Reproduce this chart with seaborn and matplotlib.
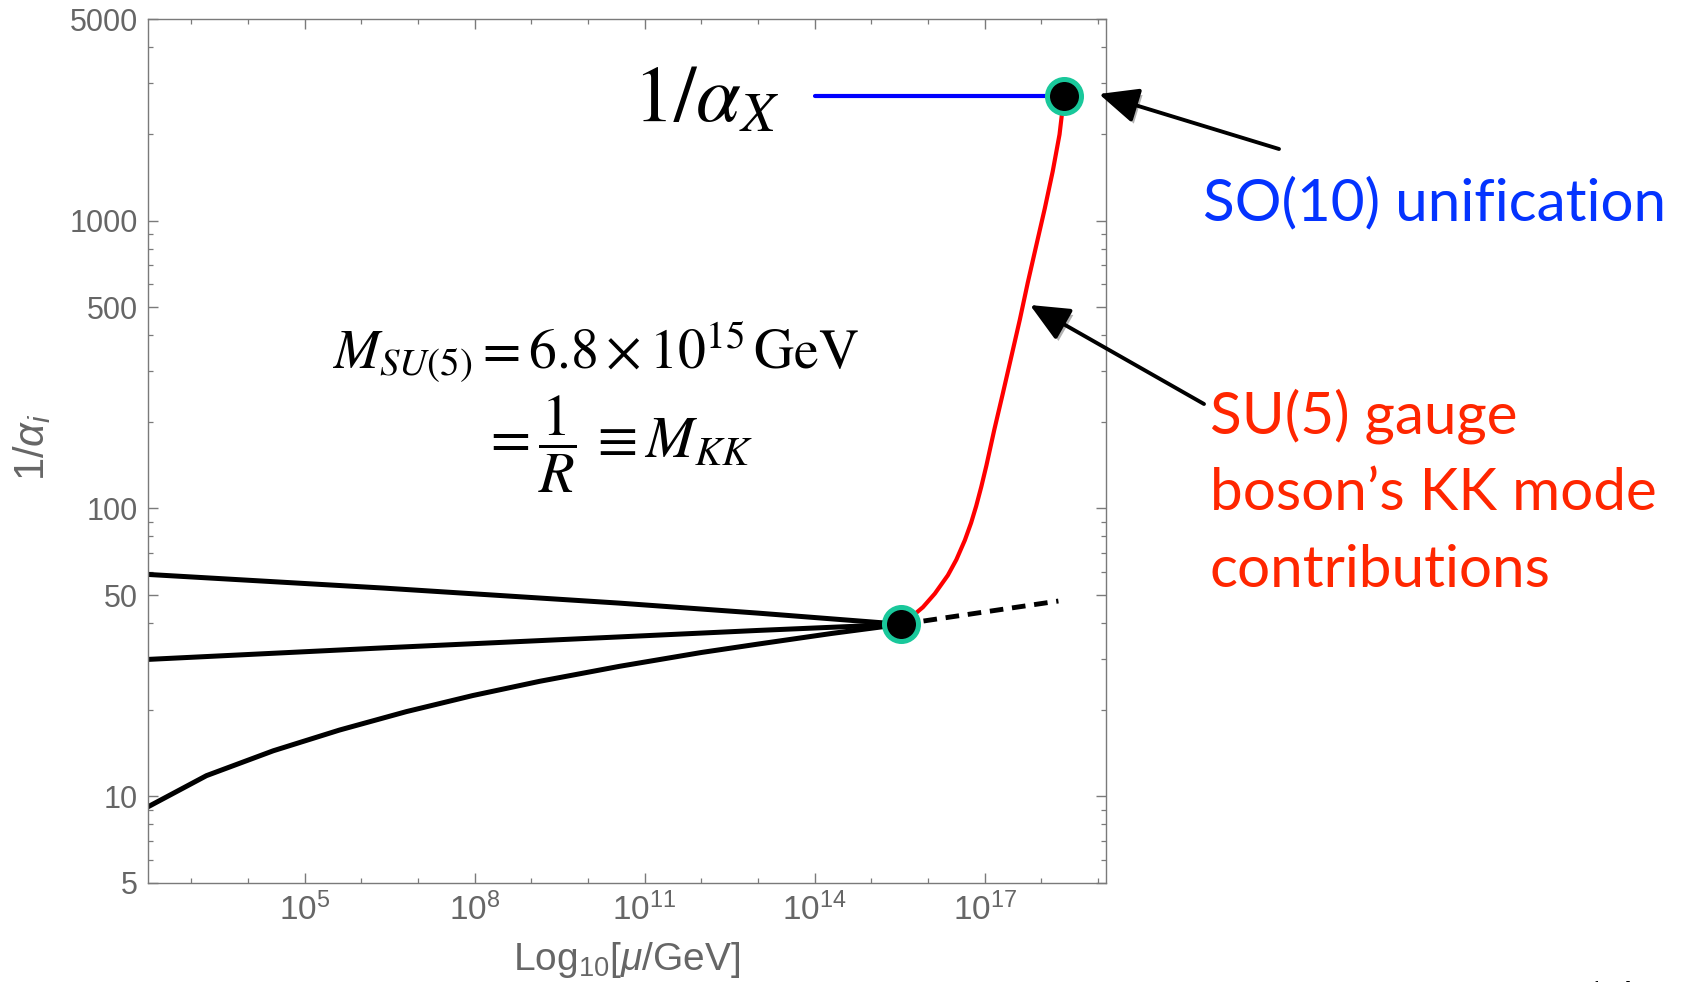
import matplotlib
matplotlib.use("Agg")
import matplotlib.pyplot as plt
import matplotlib.patheffects as pe
from matplotlib.ticker import FixedLocator, FuncFormatter, LogLocator, NullFormatter
import seaborn as sns

# values: x is log10(mu/GeV), y is 1/alpha_i
a1_x = [2.24, 6.40, 10.56, 13.00, 15.53]
a1_y = [59.0, 52.9, 46.9, 43.3, 39.6]
a2_x = [2.24, 6.40, 10.56, 13.00, 15.53]
a2_y = [29.9, 32.8, 35.8, 37.7, 39.6]
a3_x = [2.24, 3.27, 4.45, 5.62, 6.80, 7.97, 9.15, 10.56, 12.00, 13.00, 14.30, 15.53]
a3_y = [9.2, 11.8, 14.4, 17.0, 19.7, 22.4, 25.1, 28.3, 31.6, 33.8, 36.8, 39.6]

# SU(5) gauge boson KK tower running
kk_x = [15.53, 15.70, 15.91, 16.12, 16.35, 16.50, 16.65, 16.76, 16.85, 16.94,
        17.03, 17.17, 17.32, 17.47, 17.62, 17.76, 17.91, 18.06, 18.20, 18.32, 18.40]
kk_y = [39.6, 41.9, 45.4, 50.6, 58.6, 66.4, 77.6, 89.1, 102, 119,
        141, 188, 251, 337, 453, 609, 820, 1102, 1483, 1991, 2706]

# SM-like continuation above M_SU(5)
cont_x = [15.53, 18.30]
cont_y = [39.6, 47.7]

# 1/alpha_X level
ax_x = [14.0, 18.40]
ax_y = [2706, 2706]

dot_x = [15.53, 18.40]
dot_y = [39.6, 2706]

x_major = [5, 8, 11, 14, 17]
x_minor = list(range(3, 20))
y_major = [5, 10, 50, 100, 500, 1000, 5000]

gray = '#666666'
teal = '#19C89B'

sns.set_theme(style='ticks')
plt.rcParams['font.family'] = ['Liberation Sans', 'DejaVu Sans']
plt.rcParams['mathtext.fontset'] = 'custom'
plt.rcParams['mathtext.rm'] = 'Liberation Sans'
plt.rcParams['mathtext.it'] = 'Liberation Sans:italic'

W, H = 1688, 982
fig = plt.figure(figsize=(W / 100, H / 100), dpi=100)
ax = fig.add_axes([147.5 / W, (H - 883) / H, (1106 - 147.5) / W, (883 - 19.4) / H])


def px(x, y):
    return (x / W, 1 - y / H)


for xs, ys in [(a1_x, a1_y), (a2_x, a2_y), (a3_x, a3_y)]:
    sns.lineplot(x=xs, y=ys, ax=ax, color='black', linewidth=3.6, sort=False)

sns.lineplot(x=cont_x, y=cont_y, ax=ax, color='black', linewidth=3.5, sort=False)
ax.lines[-1].set_dashes((2.8, 1.8))
sns.lineplot(x=kk_x, y=kk_y, ax=ax, color='#FF0000', linewidth=3.0, sort=False)
sns.lineplot(x=ax_x, y=ax_y, ax=ax, color='#0000FF', linewidth=3.0, sort=False)
sns.scatterplot(x=dot_x, y=dot_y, ax=ax, s=600, color='black', edgecolor=teal,
                linewidth=3.6, zorder=5)

ax.set_yscale('log')
ax.set_xlim(2.23, 19.14)
ax.set_ylim(5, 5000)
ax.xaxis.set_major_locator(FixedLocator(x_major))
ax.xaxis.set_minor_locator(FixedLocator(x_minor))
ax.xaxis.set_major_formatter(FuncFormatter(lambda v, p: r'$10^{%d}$' % v))
ax.yaxis.set_major_locator(FixedLocator(y_major))
ax.yaxis.set_major_formatter(FuncFormatter(lambda v, p: '%d' % v))
ax.yaxis.set_minor_locator(LogLocator(base=10, subs=range(2, 10)))
ax.yaxis.set_minor_formatter(NullFormatter())

for s in ax.spines.values():
    s.set_visible(True)
    s.set_color('#7a7a7a')
    s.set_linewidth(1.0)
ax.tick_params(which='both', direction='in', top=True, right=True,
               color='#7a7a7a', labelcolor=gray)
ax.tick_params(axis='y', labelsize=22)
ax.tick_params(axis='x', labelsize=24)
ax.tick_params(which='major', length=7, width=1.0, pad=7)
ax.tick_params(which='minor', length=3.5, width=0.9)

ax.set_xlabel(r'Log$_{10}$[$\mu$/GeV]', color=gray, fontsize=28)
ax.set_ylabel(r'1/$\alpha_i$', color=gray, fontsize=30)
ax.xaxis.set_label_coords(0.5, -0.066)
ax.yaxis.set_label_coords(-0.099, 0.505)

# formulas inside the plot
fig.text(*px(633, 121), r'$1/\alpha_X$', fontsize=58, math_fontfamily='stix',
         ha='left', va='baseline', color='black')
fig.text(*px(332, 369), r'$M_{SU(5)} = 6.8\times10^{15}\,\mathrm{GeV}$', fontsize=40,
         math_fontfamily='stix', ha='left', va='baseline', color='black')
fig.text(*px(482, 444), r'$=\dfrac{1}{R}\,\equiv M_{KK}$', fontsize=42,
         math_fontfamily='stix', ha='left', va='center', color='black')

# side annotations
fig.text(*px(1203, 220), 'SO(10) unification', family='Lato', fontsize=42,
         color='#0433FF', ha='left', va='baseline')
for txt, yb in [('SU(5) gauge', 434), ('boson\u2019s KK mode', 510), ('contributions', 587)]:
    fig.text(*px(1210, yb), txt, family='Lato', fontsize=42, color='#FF2600',
             ha='left', va='baseline')

arrow = dict(arrowstyle='-|>,head_length=1.0,head_width=0.45', lw=2.8, color='black',
             mutation_scale=24, shrinkA=0, shrinkB=0,
             path_effects=[pe.SimplePatchShadow(offset=(2, -3), alpha=0.3), pe.Normal()])
ax.annotate('', xy=px(1099, 94), xytext=px(1279, 149), xycoords='figure fraction',
            textcoords='figure fraction', arrowprops=arrow, annotation_clip=False)
ax.annotate('', xy=px(1030, 305), xytext=px(1204, 404), xycoords='figure fraction',
            textcoords='figure fraction', arrowprops=arrow, annotation_clip=False)

# slide number, cut off at the bottom edge
fig.text(*px(1580, 979), '14', family='Liberation Serif', fontsize=40, color='black',
         ha='left', va='top')

fig.savefig('out.png', dpi=100)
